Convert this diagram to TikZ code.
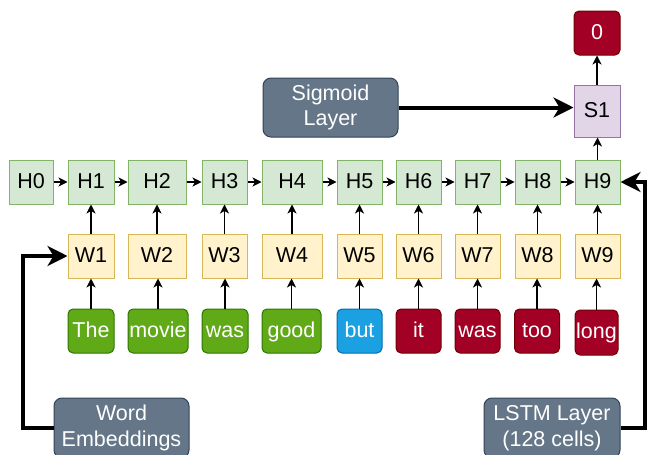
\documentclass[tikz,border=0pt]{standalone}
\usepackage{fontspec}
\setmainfont{Liberation Sans}
\usetikzlibrary{arrows.meta}
\definecolor{hfill}{HTML}{D5E8D4}\definecolor{hdraw}{HTML}{82B366}
\definecolor{wfill}{HTML}{FFF2CC}\definecolor{wdraw}{HTML}{D6B656}
\definecolor{gfill}{HTML}{60A917}\definecolor{gdraw}{HTML}{2D7600}
\definecolor{bfill}{HTML}{1BA1E2}\definecolor{bdraw}{HTML}{006EAF}
\definecolor{rfill}{HTML}{A20025}\definecolor{rdraw}{HTML}{6F0000}
\definecolor{sfill}{HTML}{647687}\definecolor{sdraw}{HTML}{314354}
\definecolor{pfill}{HTML}{E1D5E7}\definecolor{pdraw}{HTML}{9673A6}
\tikzset{
  x=1pt,y=-1pt,
  base/.style={inner sep=0pt,font=\fontsize{21.5}{25}\selectfont,line width=1pt,text height=15.5pt,text depth=3pt},
  hbox/.style={base,fill=hfill,draw=hdraw,minimum height=44pt},
  wbox/.style={base,fill=wfill,draw=wdraw,minimum height=44pt},
  word/.style={base,rounded corners=5pt,minimum height=44pt,text=white},
  gw/.style={word,fill=gfill,draw=gdraw},
  bw/.style={word,fill=bfill,draw=bdraw},
  rw/.style={word,fill=rfill,draw=rdraw},
  gray/.style={inner sep=0pt,font=\fontsize{21.5}{25.5}\selectfont,align=center,rounded corners=8pt,fill=sfill,draw=sdraw,line width=1pt,text=white,minimum width=135pt},
  thin/.style={line width=1.1pt,-{Stealth[length=9pt,width=9pt,inset=2.5pt]}},
  thick/.style={line width=4pt,-{Stealth[length=20pt,width=20pt,inset=6pt]}}
}
\begin{document}
\begin{tikzpicture}
\useasboundingbox (0,0) rectangle (648,455);
% H row
\node[hbox,minimum width=44pt] (H0) at (31,182) {H0};
\node[hbox,minimum width=46pt] (H1) at (91,182) {H1};
\node[hbox,minimum width=58pt] (H2) at (157,182) {H2};
\node[hbox,minimum width=45pt] (H3) at (224.5,182) {H3};
\node[hbox,minimum width=60pt] (H4) at (292,182) {H4};
\node[hbox,minimum width=45pt] (H5) at (359.5,182) {H5};
\node[hbox,minimum width=45pt] (H6) at (418.5,182) {H6};
\node[hbox,minimum width=45pt] (H7) at (477.5,182) {H7};
\node[hbox,minimum width=45pt] (H8) at (537.5,182) {H8};
\node[hbox,minimum width=45pt] (H9) at (597.5,182) {H9};
% W row
\node[wbox,minimum width=46pt] (W1) at (91,256) {W1};
\node[wbox,minimum width=58pt] (W2) at (157,256) {W2};
\node[wbox,minimum width=45pt] (W3) at (224.5,256) {W3};
\node[wbox,minimum width=60pt] (W4) at (292,256) {W4};
\node[wbox,minimum width=45pt] (W5) at (359.5,256) {W5};
\node[wbox,minimum width=45pt] (W6) at (418.5,256) {W6};
\node[wbox,minimum width=45pt] (W7) at (477.5,256) {W7};
\node[wbox,minimum width=45pt] (W8) at (537.5,256) {W8};
\node[wbox,minimum width=45pt] (W9) at (597.5,256) {W9};
% words
\node[gw,minimum width=46pt] (T1) at (91,331) {The};
\node[gw,minimum width=60pt] (T2) at (158,331) {movie};
\node[gw,minimum width=46pt] (T3) at (225,331) {was};
\node[gw,minimum width=59pt] (T4) at (291.5,331) {good};
\node[bw,minimum width=45pt] (T5) at (359.5,331) {but};
\node[rw,minimum width=45pt] (T6) at (418.5,331) {it};
\node[rw,minimum width=45pt] (T7) at (477.5,331) {was};
\node[rw,minimum width=45pt] (T8) at (537,331) {too};
\node[rw,minimum width=43pt,minimum height=45pt] (T9) at (596.5,332.5) {long};
% top
\node[base,fill=pfill,draw=pdraw,minimum width=46pt,minimum height=52pt] (S1) at (597,111) {S1};
\node[base,rounded corners=5pt,fill=rfill,draw=rdraw,text=white,minimum width=46pt,minimum height=44pt] (O) at (597,33) {0};
\node[gray,minimum height=59pt] (SIG) at (330.5,107.5) {Sigmoid\\Layer};
\node[gray,minimum height=60pt] (WE) at (121.5,428) {Word\\Embeddings};
\node[gray,minimum width=136pt,minimum height=60pt] (LS) at (552,428) {LSTM Layer\\(128 cells)};
% thin arrows
\foreach \a/\b in {H0/H1,H1/H2,H2/H3,H3/H4,H4/H5,H5/H6,H6/H7,H7/H8,H8/H9}
  \draw[thin] (\a) -- (\b);
\foreach \i in {1,...,9}{
  \draw[thin] (W\i.north) -- (H\i.south);
  \draw[thin] (T\i.north) -- (T\i.north |- W\i.south);
}
\draw[thin] (H9.north) -- (H9.north |- S1.south);
\draw[thin] (S1.north) -- (O.south);
% thick arrows
\draw[thick] (SIG.east) -- (SIG.east -| S1.west);
\coordinate (L1) at (23,428);
\coordinate (R1) at (645,428);
\draw[thick] (WE.west) -- (L1) |- (W1.west);
\draw[thick] (LS.east) -- (R1) |- (H9.east);
\end{tikzpicture}
\end{document}
